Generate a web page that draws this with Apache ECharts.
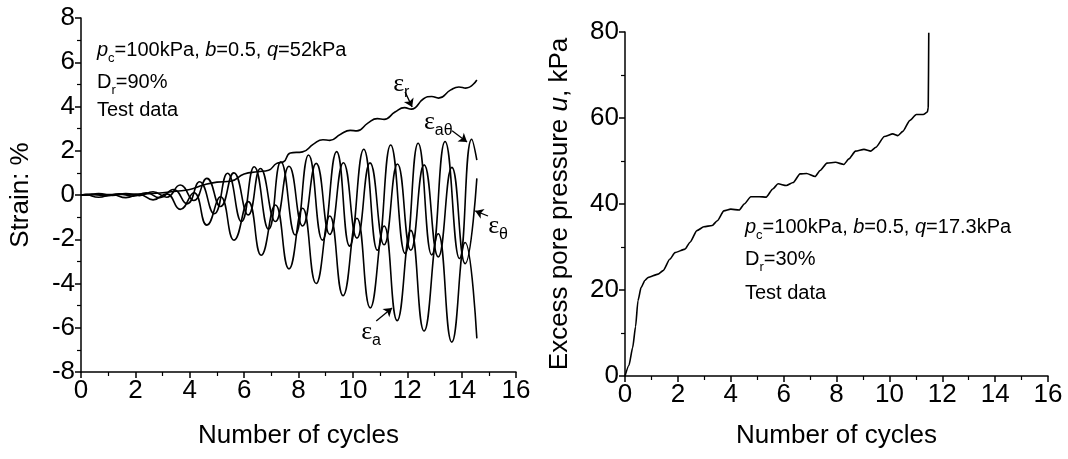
<!DOCTYPE html>
<html><head><meta charset="utf-8">
<script src="https://cdn.jsdelivr.net/npm/echarts@6/dist/echarts.min.js"></script>
<style>html,body{margin:0;padding:0;background:#fff}#c{width:1068px;height:459px}</style>
</head><body><div id="c"></div>
<script>
// ---- data ----
const cycleTicks = [0, 2, 4, 6, 8, 10, 12, 14, 16];
const strainTicks = [-8, -6, -4, -2, 0, 2, 4, 6, 8];
const poreTicks = [0, 20, 40, 60, 80];

// [cycles, strain %]
const epsR = [[0,0],[0.5,0.01],[1,0.02],[1.5,0.03],[2,0.04],[2.5,0.06],[3,0.1],[3.5,0.17],[4,0.25],[4.5,0.45],[5,0.58],[5.5,0.62],[6,0.95],[6.5,1.05],[6.9,1.12],[7.2,1.43],[7.45,1.5],[7.7,1.9],[8.15,1.95],[8.55,2.3],[8.9,2.5],[9.15,2.47],[9.55,2.75],[9.9,2.92],[10.15,2.9],[10.55,3.25],[10.9,3.45],[11.15,3.42],[11.55,3.75],[11.9,3.95],[12.15,3.88],[12.6,4.35],[12.9,4.45],[13.15,4.38],[13.6,4.75],[13.9,4.88],[14.15,4.83],[14.56,5.2]];
const epsA = [[0,0],[0.15,0.02],[0.65,-0.1],[1.15,0.01],[1.65,-0.12],[2.15,0.02],[2.65,-0.22],[3.15,0.05],[3.65,-0.65],[4.15,0.1],[4.63,-1.36],[5.13,-0.08],[5.63,-2.04],[6.15,-0.3],[6.63,-2.72],[7.15,-0.45],[7.65,-3.34],[8.15,-0.6],[8.65,-4.0],[9.15,-0.95],[9.64,-4.55],[10.15,-1.05],[10.64,-5.1],[11.15,-1.4],[11.63,-5.68],[12.13,-1.6],[12.62,-6.15],[13.14,-1.75],[13.64,-6.65],[14.13,-2.15],[14.56,-6.48]];
const epsTheta = [[0,0],[0.15,-0.01],[0.65,0.06],[1.15,-0.02],[1.65,0.07],[2.15,-0.03],[2.65,0.15],[3.15,-0.1],[3.65,0.45],[4.15,-0.25],[4.63,0.75],[5.13,-0.52],[5.62,1.0],[6.15,-0.9],[6.6,1.2],[7.15,-1.2],[7.65,1.3],[8.15,-1.4],[8.65,1.43],[9.15,-1.78],[9.65,1.46],[10.15,-1.95],[10.63,1.45],[11.15,-2.25],[11.64,1.4],[12.13,-2.5],[12.62,1.36],[13.14,-2.8],[13.64,1.25],[14.13,-3.1],[14.56,0.75]];
const epsATheta = [[0,0],[0.4,0.04],[0.9,-0.04],[1.4,0.05],[1.9,-0.05],[2.4,0.1],[2.9,-0.12],[3.4,0.25],[3.9,-0.4],[4.36,0.6],[4.9,-0.85],[5.39,0.98],[5.9,-1.2],[6.37,1.28],[6.9,-1.55],[7.35,1.5],[7.88,-1.81],[8.37,1.81],[8.88,-2.04],[9.4,1.96],[9.88,-2.31],[10.4,2.07],[10.9,-2.49],[11.39,2.26],[11.92,-2.64],[12.4,2.34],[12.9,-2.71],[13.39,2.42],[13.92,-2.87],[14.37,2.52],[14.56,1.58]];

// [cycles, excess pore pressure kPa]
const poreU = [[0,0],[0.15,2.5],[0.29,6.6],[0.4,11.5],[0.49,17.5],[0.61,20.6],[0.75,22.2],[0.87,22.9],[1.25,23.7],[1.44,24.5],[1.7,27.2],[1.89,28.7],[2.27,29.5],[2.46,31.1],[2.72,33.8],[2.98,34.7],[3.3,35.0],[3.49,36.1],[3.74,38.4],[4.0,38.8],[4.32,38.6],[4.51,40.0],[4.76,41.7],[5.08,41.7],[5.34,41.6],[5.59,43.5],[5.79,44.7],[6.1,44.3],[6.36,45.0],[6.62,47.0],[6.87,47.1],[7.19,46.4],[7.38,47.8],[7.64,49.5],[7.96,49.7],[8.28,49.2],[8.47,50.5],[8.72,52.3],[9.04,52.7],[9.3,52.3],[9.49,53.2],[9.81,55.7],[10.13,56.3],[10.32,55.9],[10.51,56.9],[10.77,59.4],[11.02,60.8],[11.28,60.8],[11.44,61.4],[11.47,62.5],[11.49,79.8]];

// ---- styling ----
const SANS = 'Liberation Sans, Arial, sans-serif';
const SERIF = 'Liberation Serif, DejaVu Serif, serif';
const BLACK = '#000';

function axisCommon(min, max, interval) {
  return {
    type: 'value', min, max, interval,
    axisLine: { show: true, onZero: false, lineStyle: { color: BLACK, width: 1.5 } },
    axisTick: { show: true, inside: false, length: 6, lineStyle: { color: BLACK, width: 1.5 } },
    minorTick: { show: true, splitNumber: 2, length: 4, lineStyle: { color: BLACK, width: 1.2 } },
    splitLine: { show: false }, minorSplitLine: { show: false },
    axisLabel: { color: BLACK, fontSize: 26, fontFamily: SANS, margin: 6 },
    nameLocation: 'middle',
    nameTextStyle: { color: BLACK, fontSize: 26, fontFamily: SANS }
  };
}

const epsRich = {
  e: { fontSize: 26, fontFamily: SERIF, color: BLACK, lineHeight: 26 },
  s: { fontSize: 16, fontFamily: SANS, color: BLACK, lineHeight: 14, padding: [17, 0, 0, 0] }
};
function epsLabel(coord, sub) {
  return { coord, symbol: 'circle', symbolSize: 0,
    label: { show: true, position: 'inside', formatter: '{e|ε}{s|' + sub + '}', rich: epsRich } };
}
function arrow(from, to) {
  return [{ coord: from }, { coord: to }];
}
const markLineStyle = { symbol: ['none', 'arrow'], symbolSize: 8, silent: true, animation: false,
  label: { show: false }, lineStyle: { color: BLACK, width: 1.3, type: 'solid' }, emphasis: { disabled: true } };

function lineSeries(data, xi, yi, extra) {
  return Object.assign({ type: 'line', data, xAxisIndex: xi, yAxisIndex: yi, showSymbol: false, smooth: 0.5,
    lineStyle: { color: BLACK, width: 1.6 }, itemStyle: { color: BLACK }, silent: true, animation: false }, extra || {});
}

const annRich = {
  i: { fontSize: 20, fontFamily: SANS, fontStyle: 'italic', fill: BLACK, lineHeight: 22 },
  n: { fontSize: 20, fontFamily: SANS, fill: BLACK, lineHeight: 22 },
  s: { fontSize: 13, fontFamily: SANS, fill: BLACK, lineHeight: 13, padding: [16, 0, 0, 0] }
};
function ann(x, y, text) {
  return { type: 'text', x, y, silent: true,
    style: { text, rich: annRich, fontSize: 20, fontFamily: SANS, fill: BLACK, align: 'left', verticalAlign: 'middle' } };
}

const option = {
  backgroundColor: '#fff',
  animation: false,
  grid: [
    { left: 81, top: 18, width: 435, height: 354 },
    { left: 625, top: 32, width: 423, height: 344 }
  ],
  xAxis: [
    Object.assign(axisCommon(cycleTicks[0], cycleTicks[cycleTicks.length - 1], 2), { gridIndex: 0, name: 'Number of cycles', nameGap: 51 }),
    Object.assign(axisCommon(cycleTicks[0], cycleTicks[cycleTicks.length - 1], 2), { gridIndex: 1, name: 'Number of cycles', nameGap: 47 })
  ],
  yAxis: [
    Object.assign(axisCommon(strainTicks[0], strainTicks[strainTicks.length - 1], 2), { gridIndex: 0, name: 'Strain: %', nameGap: 47 }),
    Object.assign(axisCommon(poreTicks[0], poreTicks[poreTicks.length - 1], 20), { gridIndex: 1, name: 'Excess pore pressure {i|u}, kPa', nameGap: 52,
      nameTextStyle: { color: BLACK, fontSize: 26, fontFamily: SANS, rich: { i: { fontSize: 26, fontFamily: SANS, fontStyle: 'italic', color: BLACK } } } })
  ],
  series: [
    lineSeries(epsR, 0, 0, {
      markPoint: { silent: true, animation: false, data: [epsLabel([11.78, 5.02], 'r')] },
      markLine: Object.assign({ data: [arrow([11.92, 4.66], [12.18, 3.98])] }, markLineStyle)
    }),
    lineSeries(epsATheta, 0, 0, {
      markPoint: { silent: true, animation: false, data: [epsLabel([13.14, 3.3], 'aθ')] },
      markLine: Object.assign({ data: [arrow([13.65, 2.9], [14.2, 2.4])] }, markLineStyle)
    }),
    lineSeries(epsTheta, 0, 0, {
      markPoint: { silent: true, animation: false, data: [epsLabel([15.34, -1.4], 'θ')] },
      markLine: Object.assign({ data: [arrow([14.97, -0.95], [14.5, -0.72])] }, markLineStyle)
    }),
    lineSeries(epsA, 0, 0, {
      markPoint: { silent: true, animation: false, data: [epsLabel([10.67, -6.2], 'a')] },
      markLine: Object.assign({ data: [arrow([10.86, -5.7], [11.44, -5.11])] }, markLineStyle)
    }),
    lineSeries(poreU, 1, 1, { smooth: 0.2, smoothMonotone: 'x' })
  ],
  graphic: [
    ann(97, 50, '{i|p}{s|c}{n|=100kPa, }{i|b}{n|=0.5, }{i|q}{n|=52kPa}'),
    ann(97, 82, '{n|D}{s|r}{n|=90%}'),
    ann(97, 110, '{n|Test data}'),
    ann(745, 227, '{i|p}{s|c}{n|=100kPa, }{i|b}{n|=0.5, }{i|q}{n|=17.3kPa}'),
    ann(745, 259, '{n|D}{s|r}{n|=30%}'),
    ann(745, 293, '{n|Test data}')
  ]
};

const chart = echarts.init(document.getElementById('c'), null, { renderer: 'canvas' });
chart.setOption(option);
</script>
</body></html>
